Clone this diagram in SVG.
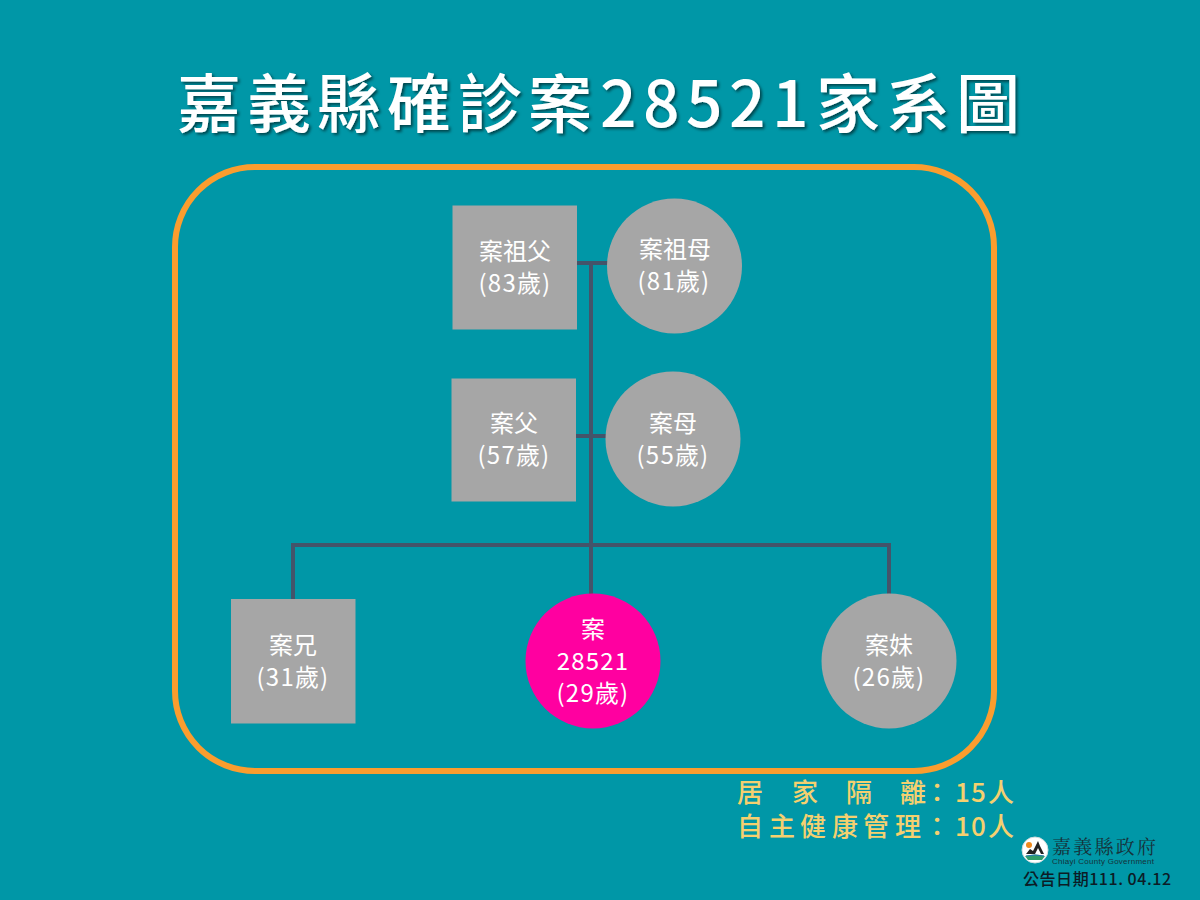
<svg xmlns="http://www.w3.org/2000/svg" width="1200" height="900" viewBox="0 0 1200 900">
<style>
text{font-family:"Noto Sans CJK TC","Liberation Sans",sans-serif}
.sq{fill:#a6a6a6}
.lb{fill:#fff;font-size:24px;text-anchor:middle}
.ag{letter-spacing:1.2px}
.ln{stroke:#44546a;stroke-width:4;fill:none}
.st{fill:#f5d06f;font-size:26px;font-weight:500}
</style>
<defs><filter id="sh" x="-5%" y="-20%" width="110%" height="140%"><feDropShadow dx="2" dy="2" stdDeviation="1.5" flood-color="#000" flood-opacity=".55"/></filter></defs>
<rect width="1200" height="900" fill="#0097a7"/>
<text id="title" x="177 247 317 387 458 528 600 643 686 729 772 816 886 956" y="127" style="font-size:64px;font-weight:500" fill="#fff" filter="url(#sh)">嘉義縣確診案28521家系圖</text>
<rect x="175" y="167" width="819" height="604" rx="80" fill="none" stroke="#fb9d2e" stroke-width="6"/>
<g id="connectors" class="ln">
<path d="M577 263H608M591 263V594M576 436H606M293 600V545H889V595"/>
</g>
<g id="grandfather"><rect class="sq" x="452.500" y="205.500" width="124.500" height="124"/><text class="lb" x="515" y="260">案祖父</text><text class="lb ag" x="515" y="292">(83歲)</text></g>
<g id="grandmother"><circle class="sq" cx="674.500" cy="266" r="67.500"/><text class="lb" x="675" y="258">案祖母</text><text class="lb ag" x="674" y="290">(81歲)</text></g>
<g id="father"><rect class="sq" x="451.500" y="378.500" width="124.500" height="123"/><text class="lb" x="514" y="432">案父</text><text class="lb ag" x="514" y="464">(57歲)</text></g>
<g id="mother"><circle class="sq" cx="673" cy="439" r="67.500"/><text class="lb" x="673" y="432">案母</text><text class="lb ag" x="673" y="464">(55歲)</text></g>
<g id="brother"><rect class="sq" x="231" y="599" width="124.500" height="124.500"/><text class="lb" x="293" y="654">案兄</text><text class="lb ag" x="293" y="686">(31歲)</text></g>
<g id="case"><circle cx="593" cy="661" r="67.500" fill="#ff00a0"/><text class="lb" x="593" y="638">案</text><text class="lb ag" x="593" y="670">28521</text><text class="lb ag" x="593" y="702">(29歲)</text></g>
<g id="sister"><circle class="sq" cx="889" cy="661" r="67.500"/><text class="lb" x="889" y="654">案妹</text><text class="lb ag" x="889" y="686">(26歲)</text></g>
<text class="st" x="737 792 846 900 924 955 971 988" y="802">居家隔離：15人</text>
<text class="st" x="737 769 800 832 863 895 924 955 971 988" y="836">自主健康管理：10人</text>
<g id="logo">
<circle cx="1035" cy="850" r="13" fill="#fff" stroke="#cfdcdd"/>
<circle cx="1029" cy="845" r="3" fill="#f08a1d"/>
<path d="M1026 854L1030 849L1033 851L1038 841L1040 846L1044 854L1041 854L1038 848L1035 854Z" fill="#222"/>
<path d="M1025 856Q1035 853 1045 856L1042 860H1028Z" fill="#2f9e6a"/>
<path d="M1026 856Q1035 854 1044 856" stroke="#2b78b8" fill="none"/>
<text x="1052" y="854" font-size="19" fill="#16323a" textLength="104" style="font-family:'Noto Serif CJK TC','Noto Sans CJK TC',serif">嘉義縣政府</text>
<text x="1052" y="864" font-size="8" fill="#16323a" textLength="102" style="font-family:'Liberation Sans',sans-serif">Chiayi County Government</text>
</g>
<text id="date" x="1023" y="885" font-size="16" fill="#0c1c26" textLength="148" font-weight="500">公告日期111. 04.12</text>
</svg>
